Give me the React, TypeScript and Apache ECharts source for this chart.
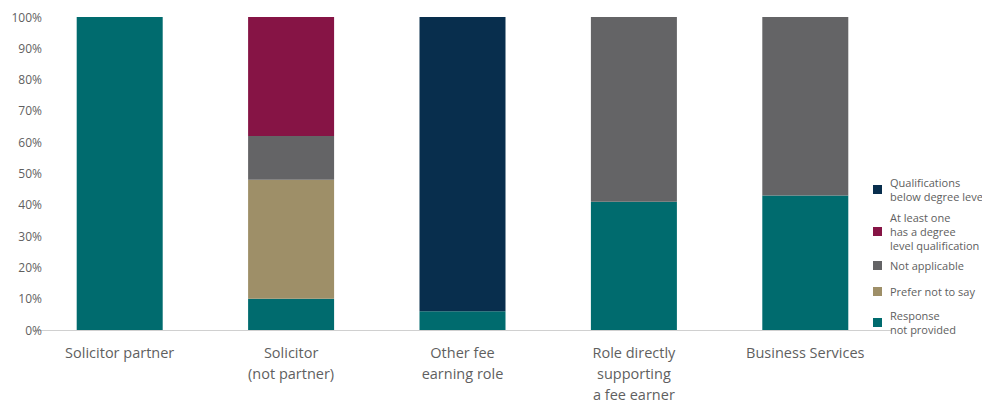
import React, { useEffect, useRef } from "react";
import * as echarts from "echarts";

const categories = [
  "Solicitor partner",
  "Solicitor\n(not partner)",
  "Other fee\nearning role",
  "Role directly\nsupporting\na fee earner",
  "Business Services",
];

const responseNotProvided = [100, 10, 6, 41, 43];
const preferNotToSay = [0, 38, 0, 0, 0];
const notApplicable = [0, 14, 0, 59, 57];
const atLeastOneDegree = [0, 38, 0, 0, 0];
const belowDegree = [0, 0, 94, 0, 0];

const seriesNames = [
  "Response\nnot provided",
  "Prefer not to say",
  "Not applicable",
  "At least one\nhas a degree\nlevel qualification",
  "Qualifications\nbelow degree level",
];
const seriesColors = ["#006B6E", "#9E8F68", "#646466", "#861445", "#082E4D"];
const seriesData = [responseNotProvided, preferNotToSay, notApplicable, atLeastOneDegree, belowDegree];

// vertical centre (in chart px) of each legend entry, same order as seriesNames
const legendCentres = [314.5, 283.5, 257.5, 223.5, 181.5];

const FONT = "'Open Sans', Lato, sans-serif";
const LEGEND_LH = 14;

export default function App() {
  const ref = useRef<HTMLDivElement>(null);
  useEffect(() => {
    if (!ref.current) return;
    const chart = echarts.init(ref.current, null, { renderer: "svg" });
    const legends = seriesNames.map((name, i) => {
      const lines = name.split("\n").length;
      return {
        orient: "vertical",
        left: 865,
        top: legendCentres[i] - (lines * LEGEND_LH) / 2,
        padding: 0,
        itemWidth: 9,
        itemHeight: 9,
        itemGap: 0,
        icon: "rect",
        selectedMode: false,
        data: [name],
        textStyle: {
          color: "#606060",
          fontSize: 11,
          lineHeight: LEGEND_LH,
          fontFamily: FONT,
          padding: [0, 0, 0, 3],
        },
      };
    });
    chart.setOption({
      animation: false,
      textStyle: { fontFamily: FONT },
      grid: { left: 26, top: 9, width: 857, height: 318, containLabel: false },
      legend: legends,
      xAxis: {
        type: "category",
        data: categories,
        axisLine: { lineStyle: { color: "#D0D0D0" } },
        axisTick: { show: false },
        axisLabel: {
          color: "#5f5f5f",
          fontSize: 14.5,
          lineHeight: 21,
          margin: 12,
          interval: 0,
          fontFamily: FONT,
        },
      },
      yAxis: {
        type: "value",
        min: 0,
        max: 100,
        interval: 10,
        splitLine: { show: false },
        axisLine: { show: false },
        axisTick: { show: false },
        axisLabel: {
          formatter: "{value}%",
          color: "#5f5f5f",
          fontSize: 12,
          margin: -8,
          fontFamily: FONT,
        },
      },
      series: seriesNames.map((name, i) => ({
        name,
        type: "bar",
        stack: "total",
        barWidth: 86,
        itemStyle: { color: seriesColors[i] },
        data: seriesData[i],
      })),
    });
    return () => chart.dispose();
  }, []);
  return <div ref={ref} style={{ width: 982, height: 397 }} />;
}
